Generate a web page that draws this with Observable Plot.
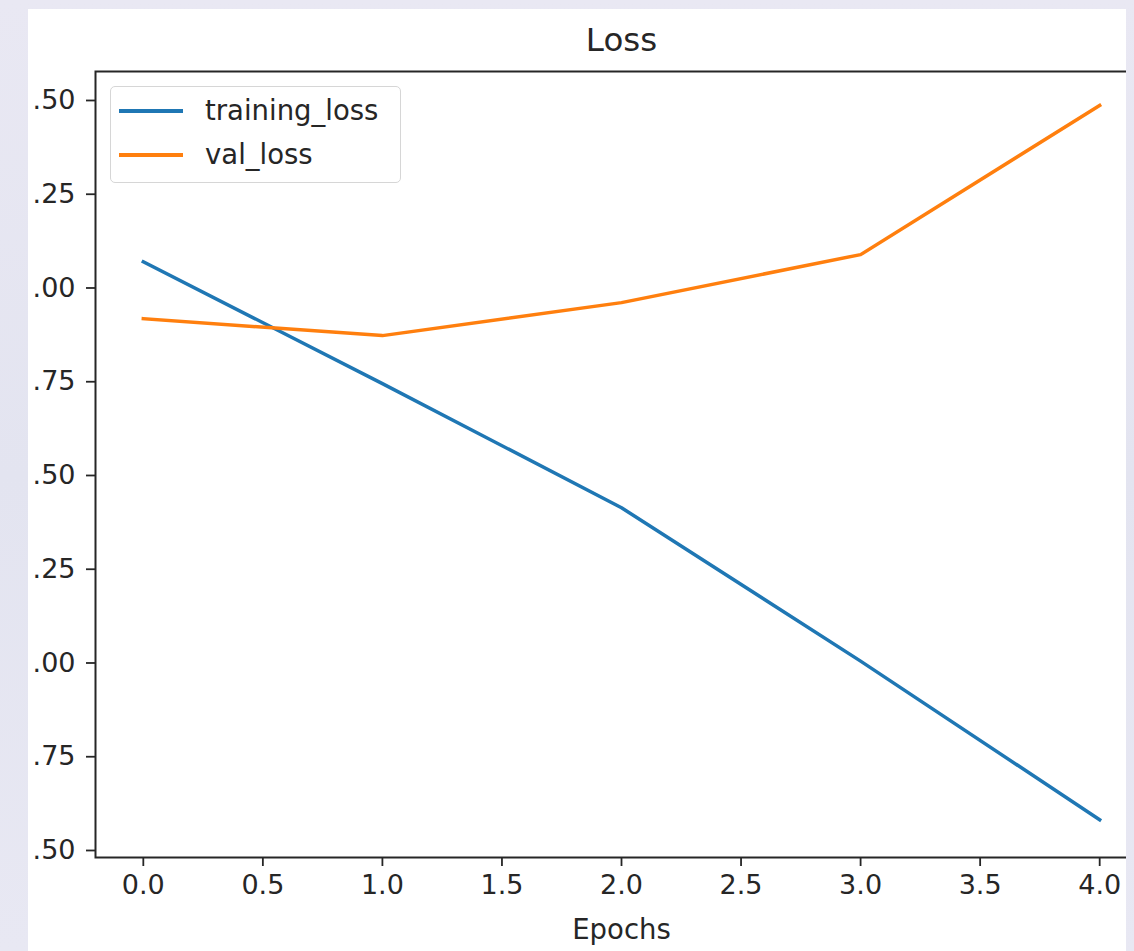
<!DOCTYPE html>
<html>
<head>
<meta charset="utf-8">
<script src="https://cdn.jsdelivr.net/npm/d3@7"></script>
<script src="https://cdn.jsdelivr.net/npm/@observablehq/plot@0.6"></script>
<style>
  html, body { margin: 0; padding: 0; }
  body { width: 1134px; height: 951px; position: relative; overflow: hidden;
         background: linear-gradient(180deg, #e9e8f3 0%, #e3e4f0 50%, #e8e8f3 100%);
         font-family: "DejaVu Sans", sans-serif; }
  #panel { position: absolute; left: 28px; top: 9px; width: 1098px; height: 942px;
           background: #ffffff; overflow: hidden; }
  #panel svg { position: absolute; left: -28px; top: -9px; max-width: none !important; height: 951px !important; }
  #legend { position: absolute; left: 110px; top: 86px; width: 291px; height: 97px;
            box-sizing: border-box; border: 1.5px solid #d6d6d6; border-radius: 5px;
            background: rgba(255,255,255,0.85); }
  .sw { position: absolute; left: 8px; width: 64px; height: 3.5px; }
  .lt { position: absolute; left: 94px; font-size: 27.5px; line-height: 30px; color: #262626; white-space: nowrap; }
</style>
</head>
<body>
<div id="panel"></div>
<div id="legend"></div>
<script>
// ---- data ----
const epochs = [0, 1, 2, 3, 4];
const trainingLoss = [2.07, 1.745, 1.414, 1.005, 0.582];
const valLoss = [1.918, 1.873, 1.961, 2.089, 2.487];
const seriesNames = ["training_loss", "val_loss"];
const seriesColors = ["#1f77b4", "#ff7f0e"];
const xTicks = [0, 0.5, 1, 1.5, 2, 2.5, 3, 3.5, 4];
const yTicks = [0.5, 0.75, 1.0, 1.25, 1.5, 1.75, 2.0, 2.25, 2.5];
const titleText = "Loss";
const xLabel = "Epochs";

const rows = [
  ...epochs.map((e, i) => ({epoch: e, loss: trainingLoss[i], series: seriesNames[0]})),
  ...epochs.map((e, i) => ({epoch: e, loss: valLoss[i], series: seriesNames[1]}))
];

// the reference photo crops away the integer part of the y tick labels
const yFmt = d => d3.format(".2f")(d).replace(/^-?\d+/, "");

const chart = Plot.plot({
  width: 1160,
  height: 951,
  marginLeft: 95,
  marginRight: 13,
  marginTop: 71,
  marginBottom: 94,
  style: {fontFamily: "DejaVu Sans", fontSize: "27px", background: "transparent", color: "#262626"},
  x: {domain: [-0.2, 4.2]},
  y: {domain: [0.4813, 2.5773]},
  color: {domain: seriesNames, range: seriesColors},
  marks: [
    Plot.axisX({ticks: xTicks, tickFormat: d3.format(".1f"), tickSize: 9, tickPadding: 8,
                fontSize: 27, label: null, stroke: "#262626", strokeWidth: 1.8}),
    Plot.axisY({ticks: yTicks, tickFormat: yFmt, tickSize: 9, tickPadding: 11,
                fontSize: 27, label: null, stroke: "#262626", strokeWidth: 1.8}),
    Plot.line(rows, {x: "epoch", y: "loss", stroke: "series", strokeWidth: 3.5,
                     strokeLinecap: "square", strokeLinejoin: "round"}),
    Plot.frame({stroke: "#262626", strokeWidth: 2}),
    Plot.text([titleText], {text: d => d, frameAnchor: "top", dy: -31, lineAnchor: "middle",
                            fontSize: 32.5, fill: "#262626"}),
    Plot.text([xLabel], {text: d => d, frameAnchor: "bottom", dy: 73, lineAnchor: "middle",
                         fontSize: 27.5, fill: "#262626"})
  ]
});
document.getElementById("panel").appendChild(chart);

// legend
const legend = document.getElementById("legend");
seriesNames.forEach((name, i) => {
  const cy = 24 + i * 44;
  const sw = document.createElement("div");
  sw.className = "sw";
  sw.style.top = (cy - 1.75) + "px";
  sw.style.background = seriesColors[i];
  legend.appendChild(sw);
  const t = document.createElement("div");
  t.className = "lt";
  t.style.top = (cy - 16) + "px";
  t.textContent = name;
  legend.appendChild(t);
});
</script>
</body>
</html>
